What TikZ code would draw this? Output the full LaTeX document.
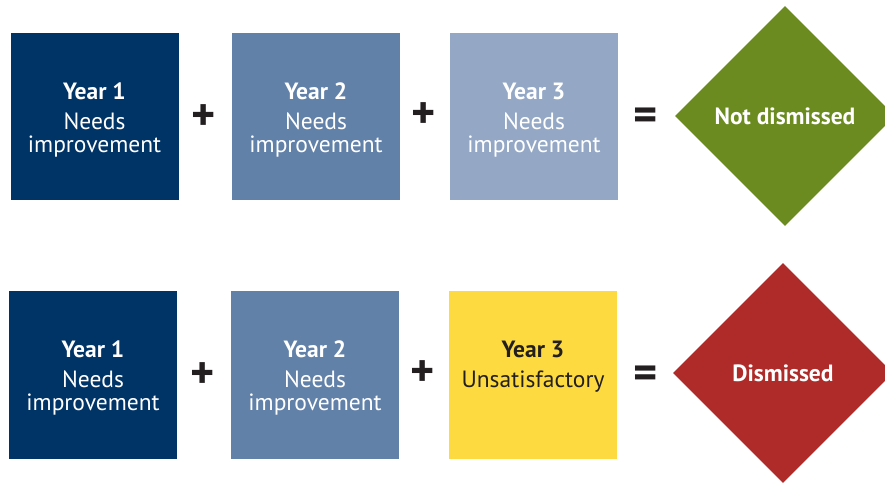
\documentclass[tikz,border=0pt]{standalone}
\usepackage{fontspec}
\setmainfont{PT Sans}
\usetikzlibrary{shapes.geometric}
\definecolor{navy}{HTML}{003466}
\definecolor{midblue}{HTML}{6281A8}
\definecolor{paleblue}{HTML}{94A8C6}
\definecolor{okgreen}{HTML}{6B8B21}
\definecolor{badred}{HTML}{AE2B29}
\definecolor{warnyellow}{HTML}{FDDA3F}
\definecolor{ink}{HTML}{231F20}
\tikzset{
  card/.style={draw=none, inner sep=0pt, outer sep=0pt, minimum width=168pt, minimum height=167.5pt},
  yr/.style={anchor=base, inner sep=0pt, font=\bfseries\fontsize{23.5}{28}\selectfont},
  lbl/.style={anchor=base, inner sep=0pt, font=\fontsize{23.5}{28}\selectfont},
  verdict/.style={shape=diamond, draw=none, inner sep=0pt, minimum width=220pt, minimum height=220pt, text=white, font=\bfseries\fontsize{23.5}{28}\selectfont},
  opsign/.style={inner sep=0pt, text=ink, font=\bfseries\fontsize{46}{50}\selectfont}
}
\begin{document}
\begin{tikzpicture}[x=1pt,y=-1pt]
\clip (0,0) rectangle (885,483);
\fill[white] (0,0) rectangle (885,483);
% top row
\node[card, fill=navy] (a1) at (94.5,116.5) {};
\node[card, fill=midblue] (a2) at (316,116.5) {};
\node[card, fill=paleblue] (a3) at (534,116.5) {};
\node[verdict, fill=okgreen] (av) at (785,116) {Not dismissed};
\foreach \n/\y/\c in {a1/1/94.5, a2/2/316, a3/3/534}{
  \node[yr, text=white] (\n y) at (\c,99) {Year \y};
  \node[lbl, text=white] (\n n) at (\c,129.3) {Needs};
  \node[lbl, text=white] (\n i) at (\c,152.3) {improvement};
}
\node[opsign] (ap1) at (204,117.5) {+};
\node[opsign] (ap2) at (423.5,116) {+};
\node[opsign] (aeq) at (646,119) {=};
% bottom row
\node[card, fill=navy] (b1) at (93,375) {};
\node[card, fill=midblue] (b2) at (315,375) {};
\node[card, fill=warnyellow] (b3) at (533,375) {};
\node[verdict, fill=badred] (bv) at (783,373) {Dismissed};
\foreach \n/\y/\c in {b1/1/93, b2/2/315}{
  \node[yr, text=white] (\n y) at (\c,357) {Year \y};
  \node[lbl, text=white] (\n n) at (\c,387.3) {Needs};
  \node[lbl, text=white] (\n i) at (\c,410.3) {improvement};
}
\node[yr, text=ink] (b3y) at (533,357) {Year 3};
\node[lbl, text=ink] (b3n) at (533,387.3) {Unsatisfactory};
\node[opsign] (bp1) at (203,375.5) {+};
\node[opsign] (bp2) at (422.7,373.5) {+};
\node[opsign] (beq) at (645.5,377) {=};
\end{tikzpicture}
\end{document}
